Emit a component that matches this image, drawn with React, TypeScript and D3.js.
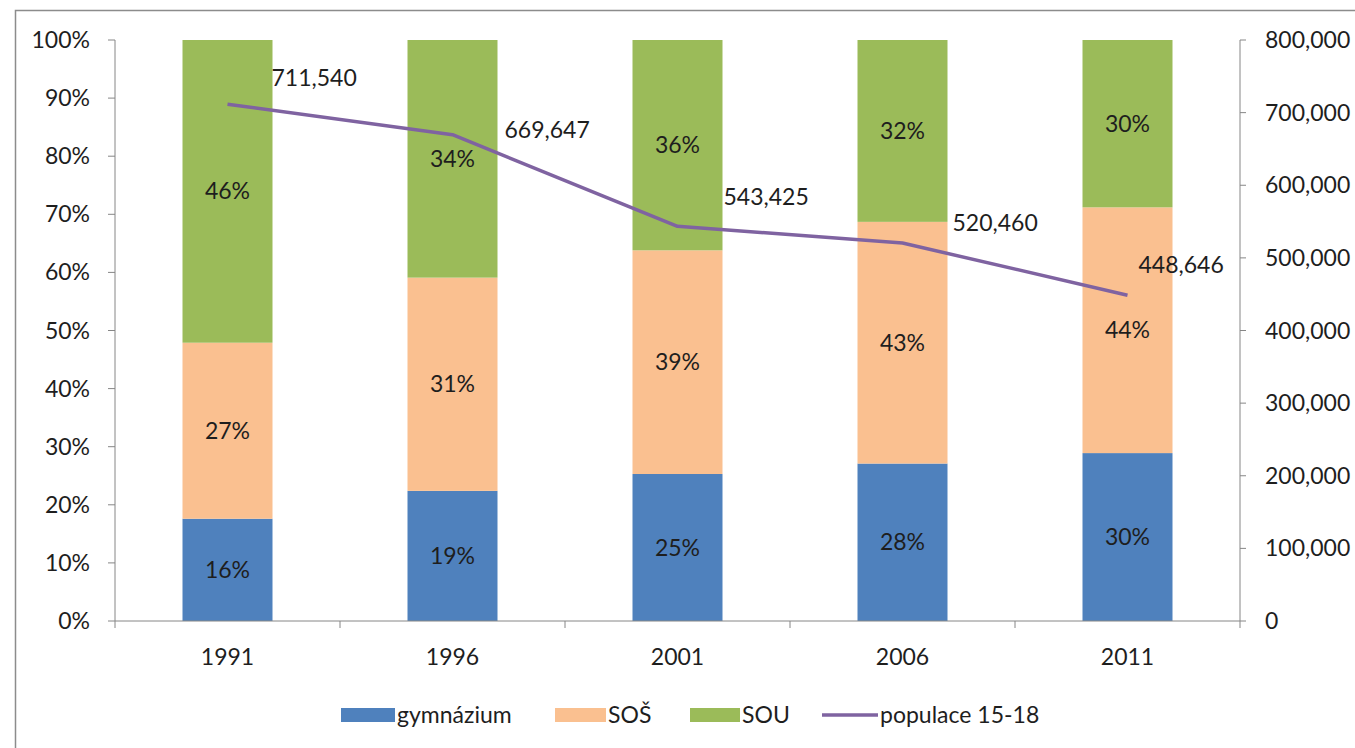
import React, { useEffect, useRef } from 'react';
import * as d3 from 'd3';

const years = ['1991', '1996', '2001', '2006', '2011'];

// bar segment heights (% of 100)
const gymnazium = [17.6, 22.4, 25.3, 27.1, 28.9];
const sos = [30.3, 36.7, 38.5, 41.6, 42.3];
const sou = [52.1, 40.9, 36.2, 31.3, 28.8];

// printed data labels
const gymLabels = ['16%', '19%', '25%', '28%', '30%'];
const sosLabels = ['27%', '31%', '39%', '43%', '44%'];
const souLabels = ['46%', '34%', '36%', '32%', '30%'];

const populace = [711540, 669647, 543425, 520460, 448646];

const seriesNames = ['gymnázium', 'SOŠ', 'SOU'];
const seriesColors = ['#4F81BD', '#FAC090', '#9BBB59'];
const lineColor = '#7F63A1';

const leftTicks = [0, 10, 20, 30, 40, 50, 60, 70, 80, 90, 100];
const rightTicks = [0, 100000, 200000, 300000, 400000, 500000, 600000, 700000, 800000];

// offsets of the population labels from their points (label left edge, label middle)
const popLabelOffset = [
  [44, -26],
  [52, -5],
  [46, -29],
  [50, -20],
  [11, -30],
];

export default function App() {
  const ref = useRef<SVGSVGElement>(null);

  useEffect(() => {
    const svg = d3.select(ref.current);
    svg.selectAll('*').remove();

    const font = 'Lato, "Open Sans", sans-serif';
    const fs = 23;
    const textColor = '#1e1e1e';
    const axisColor = '#868686';

    const left = 115;
    const right = 1240;
    const top = 40;
    const bottom = 621;

    // outer frame
    svg
      .append('rect')
      .attr('x', 15.5)
      .attr('y', 10.5)
      .attr('width', 1400)
      .attr('height', 800)
      .attr('fill', 'white')
      .attr('stroke', '#8c8c8c')
      .attr('stroke-width', 1.5);

    const x = d3.scaleBand().domain(years).range([left, right]).paddingInner(0.6).paddingOuter(0.3);
    const y = d3.scaleLinear().domain([0, 100]).range([bottom, top]);
    const y2 = d3.scaleLinear().domain([0, 800000]).range([bottom, top]);

    const segments = [gymnazium, sos, sou];
    const labels = [gymLabels, sosLabels, souLabels];

    years.forEach((yr, i) => {
      let base = 0;
      segments.forEach((s, k) => {
        const v = s[i];
        const y0 = y(base);
        const y1 = y(base + v);
        svg
          .append('rect')
          .attr('x', x(yr)!)
          .attr('y', y1)
          .attr('width', x.bandwidth())
          .attr('height', y0 - y1)
          .attr('fill', seriesColors[k]);
        svg
          .append('text')
          .attr('x', x(yr)! + x.bandwidth() / 2)
          .attr('y', (y0 + y1) / 2)
          .attr('dy', '0.35em')
          .attr('text-anchor', 'middle')
          .attr('font-family', font)
          .attr('font-size', fs)
          .attr('fill', textColor)
          .text(labels[k][i]);
        base += v;
      });
    });

    // left axis
    const gl = svg.append('g').attr('transform', `translate(${left},0)`);
    gl.append('line').attr('x1', 0).attr('x2', 0).attr('y1', top).attr('y2', bottom).attr('stroke', axisColor);
    leftTicks.forEach((t) => {
      gl.append('line').attr('x1', -7).attr('x2', 0).attr('y1', y(t)).attr('y2', y(t)).attr('stroke', axisColor);
      gl.append('text')
        .attr('x', -25)
        .attr('y', y(t))
        .attr('dy', '0.35em')
        .attr('text-anchor', 'end')
        .attr('font-family', font)
        .attr('font-size', fs)
        .attr('fill', textColor)
        .text(`${t}%`);
    });

    // right axis
    const gr = svg.append('g').attr('transform', `translate(${right},0)`);
    gr.append('line').attr('x1', 0).attr('x2', 0).attr('y1', top).attr('y2', bottom).attr('stroke', axisColor);
    rightTicks.forEach((t) => {
      gr.append('line').attr('x1', 0).attr('x2', 6).attr('y1', y2(t)).attr('y2', y2(t)).attr('stroke', axisColor);
      gr.append('text')
        .attr('x', 25)
        .attr('y', y2(t))
        .attr('dy', '0.35em')
        .attr('text-anchor', 'start')
        .attr('font-family', font)
        .attr('font-size', fs)
        .attr('fill', textColor)
        .text(d3.format(',')(t));
    });

    // bottom axis
    const gb = svg.append('g').attr('transform', `translate(0,${bottom})`);
    gb.append('line').attr('x1', left).attr('x2', right).attr('y1', 0).attr('y2', 0).attr('stroke', axisColor);
    const step = x.step();
    d3.range(years.length + 1).forEach((i) => {
      const xx = left + i * step;
      gb.append('line').attr('x1', xx).attr('x2', xx).attr('y1', 0).attr('y2', 7).attr('stroke', axisColor);
    });
    years.forEach((yr) => {
      gb.append('text')
        .attr('x', x(yr)! + x.bandwidth() / 2)
        .attr('y', 36)
        .attr('dy', '0.35em')
        .attr('text-anchor', 'middle')
        .attr('font-family', font)
        .attr('font-size', fs)
        .attr('fill', textColor)
        .text(yr);
    });

    // population line
    const line = d3
      .line<number>()
      .x((d, i) => x(years[i])! + x.bandwidth() / 2)
      .y((d) => y2(d));

    svg
      .append('path')
      .datum(populace)
      .attr('fill', 'none')
      .attr('stroke', lineColor)
      .attr('stroke-width', 3.5)
      .attr('stroke-linejoin', 'round')
      .attr('d', line);

    populace.forEach((p, i) => {
      svg
        .append('text')
        .attr('x', x(years[i])! + x.bandwidth() / 2 + popLabelOffset[i][0])
        .attr('y', y2(p) + popLabelOffset[i][1])
        .attr('dy', '0.35em')
        .attr('font-family', font)
        .attr('font-size', fs)
        .attr('fill', textColor)
        .text(d3.format(',')(p));
    });

    // legend
    const legendY = 715;
    const legendItems = [
      { name: seriesNames[0], color: seriesColors[0], x: 341, w: 54, type: 'rect' },
      { name: seriesNames[1], color: seriesColors[1], x: 555, w: 51, type: 'rect' },
      { name: seriesNames[2], color: seriesColors[2], x: 690, w: 50, type: 'rect' },
      { name: 'populace 15-18', color: lineColor, x: 822, w: 56, type: 'line' },
    ];
    legendItems.forEach((it) => {
      if (it.type === 'rect') {
        svg
          .append('rect')
          .attr('x', it.x)
          .attr('y', legendY - 7)
          .attr('width', it.w)
          .attr('height', 14)
          .attr('fill', it.color);
      } else {
        svg
          .append('line')
          .attr('x1', it.x)
          .attr('x2', it.x + it.w)
          .attr('y1', legendY)
          .attr('y2', legendY)
          .attr('stroke', it.color)
          .attr('stroke-width', 3.5);
      }
      svg
        .append('text')
        .attr('x', it.x + it.w + 2)
        .attr('y', legendY)
        .attr('dy', '0.35em')
        .attr('font-family', font)
        .attr('font-size', fs)
        .attr('fill', textColor)
        .text(it.name);
    });
  }, []);

  return (
    <svg
      ref={ref}
      width={1355}
      height={748}
      style={{ position: 'absolute', left: 0, top: 0, background: 'white' }}
    />
  );
}
